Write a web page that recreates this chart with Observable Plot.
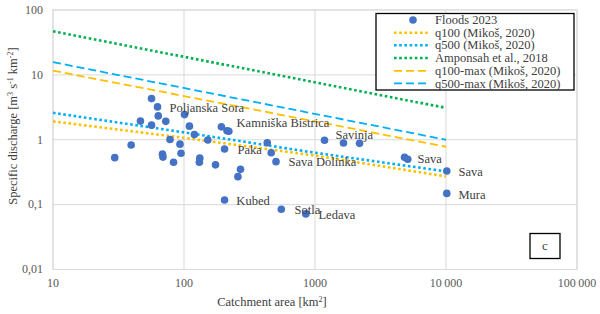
<!DOCTYPE html>
<html>
<head>
<meta charset="utf-8">
<script src="https://cdn.jsdelivr.net/npm/d3@7"></script>
<script src="https://cdn.jsdelivr.net/npm/@observablehq/plot@0.6"></script>
<style>
  html, body { margin: 0; padding: 0; background: #fff; }
  #chart { width: 600px; height: 314px; }
</style>
</head>
<body>
<div id="chart"></div>
<script>
// ---- data ----
const floodArea = [29.6, 39.5, 46.5, 56.5, 56.5, 62.8, 63.6, 72.6, 78.2, 68.5, 69.1, 83.2, 93.2, 94.9, 100.9, 110, 120, 132, 131, 152, 174, 193, 213, 220, 204, 270, 258, 204, 432, 463, 504, 553, 851, 1182, 1650, 2188, 4823, 5105, 10140, 10140];
const floodQ    = [0.53, 0.83, 1.94, 4.31, 1.68, 3.21, 2.33, 1.92, 1.01, 0.60, 0.54, 0.45, 0.855, 0.62, 2.44, 1.62, 1.2, 0.52, 0.45, 0.99, 0.41, 1.58, 1.38, 1.35, 0.72, 0.35, 0.27, 0.118, 0.90, 0.63, 0.46, 0.085, 0.072, 0.98, 0.89, 0.88, 0.535, 0.50, 0.33, 0.149];

const labelNames = ["Poljanska Sora", "Kamniška Bistrica", "Paka", "Sava Dolinka", "Kubed", "Sotla", "Ledava", "Savinja", "Sava", "Sava", "Mura"];
const labelArea  = [77.5, 252, 256, 628, 251, 698, 1063, 1433, 6058, 12450, 12450];
const labelQ     = [3.13, 1.84, 0.70, 0.45, 0.115, 0.082, 0.0686, 1.18, 0.51, 0.316, 0.142];

const q100Area = [10, 100, 1000, 10000];
const q100Vals = [1.92, 1.07, 0.57, 0.272];
const q500Area = [10, 100, 1000, 10000];
const q500Vals = [2.6, 1.3, 0.63, 0.325];
const ampArea = [10, 10000];
const ampVals = [47, 3.1];
const q100maxArea = [10, 10000];
const q100maxVals = [11.6, 0.78];
const q500maxArea = [10, 10000];
const q500maxVals = [15.7, 1.0];

const xTicks = [10, 100, 1000, 10000, 100000];
const xTickLabels = ["10", "100", "1000", "10\u2009000", "100\u2009000"];
const yTicks = [0.01, 0.1, 1, 10, 100];
const yTickLabels = ["0,01", "0,1", "1", "10", "100"];

const seriesNames = ["Floods 2023", "q100 (Mikoš, 2020)", "q500 (Mikoš, 2020)", "Amponsah et al., 2018", "q100-max (Mikoš, 2020)", "q500-max (Mikoš, 2020)"];

// ---- build tables ----
const floods = floodArea.map((a, i) => ({area: a, q: floodQ[i]}));
const labels = labelNames.map((n, i) => ({name: n, area: labelArea[i], q: labelQ[i]}));
const mk = (xs, ys) => xs.map((x, i) => ({area: x, q: ys[i]}));

const ORANGE = "#FFC000", BLUE = "#00B0F0", GREEN = "#00B050", DOT = "#4472C4";
const FONT = "Liberation Serif, Times New Roman, serif";
const dotted = {strokeWidth: 2.6, strokeDasharray: "2.6,2.6", strokeLinecap: "butt"};
const dashed = {strokeWidth: 1.8, strokeDasharray: "8,4", strokeLinecap: "butt"};

const plot = Plot.plot({
  width: 600,
  height: 314,
  marginLeft: 52.5,
  marginRight: 23.5,
  marginTop: 9.5,
  marginBottom: 45,
  style: {fontFamily: FONT, fontSize: "12px", color: "#595959", background: "#fff"},
  x: {type: "log", domain: [10, 100000]},
  y: {type: "log", domain: [0.01, 100]},
  marks: [
    Plot.gridX(xTicks, {stroke: "#d9d9d9", strokeOpacity: 1, strokeWidth: 1}),
    Plot.gridY(yTicks, {stroke: "#d9d9d9", strokeOpacity: 1, strokeWidth: 1}),
    Plot.frame({stroke: "#d9d9d9", strokeWidth: 1}),
    Plot.axisX({ticks: xTicks, tickSize: 0, tickPadding: 9, label: null,
      tickFormat: d => xTickLabels[xTicks.indexOf(d)], fontSize: 12}),
    Plot.axisY({ticks: yTicks, tickSize: 0, tickPadding: 10, label: null,
      tickFormat: d => yTickLabels[yTicks.indexOf(d)], fontSize: 12}),
    Plot.line(mk(ampArea, ampVals), {x: "area", y: "q", stroke: GREEN, ...dotted}),
    Plot.line(mk(q500maxArea, q500maxVals), {x: "area", y: "q", stroke: BLUE, ...dashed}),
    Plot.line(mk(q100maxArea, q100maxVals), {x: "area", y: "q", stroke: ORANGE, ...dashed}),
    Plot.line(mk(q500Area, q500Vals), {x: "area", y: "q", stroke: BLUE, ...dotted}),
    Plot.line(mk(q100Area, q100Vals), {x: "area", y: "q", stroke: ORANGE, ...dotted}),
    Plot.dot(floods, {x: "area", y: "q", r: 3.8, fill: DOT, stroke: "none"}),
    Plot.text(labels, {x: "area", y: "q", text: "name", textAnchor: "start", lineAnchor: "middle",
      fill: "#404040", fontSize: 12.5})
  ]
});
document.getElementById("chart").appendChild(plot);

// ---- titles, legend, panel label ----
const svg = d3.select(plot);

const yt = svg.append("text")
  .attr("transform", "translate(17,126) rotate(-90)")
  .attr("text-anchor", "middle")
  .attr("font-family", FONT).attr("font-size", 12.5).attr("fill", "#404040");
yt.append("tspan").text("Specific discharge [m");
yt.append("tspan").attr("font-size", 8).attr("dy", -4.5).text("3");
yt.append("tspan").attr("dy", 4.5).text(" s");
yt.append("tspan").attr("font-size", 8).attr("dy", -4.5).text("-1");
yt.append("tspan").attr("dy", 4.5).text(" km");
yt.append("tspan").attr("font-size", 8).attr("dy", -4.5).text("-2");
yt.append("tspan").attr("dy", 4.5).text("]");

const xt = svg.append("text")
  .attr("x", 272).attr("y", 306)
  .attr("text-anchor", "middle")
  .attr("font-family", FONT).attr("font-size", 12.5).attr("fill", "#404040");
xt.append("tspan").text("Catchment area [km");
xt.append("tspan").attr("font-size", 8).attr("dy", -4.5).text("2");
xt.append("tspan").attr("dy", 4.5).text("]");

// legend
const lg = svg.append("g").attr("text-anchor", "start");
lg.append("rect").attr("x", 376).attr("y", 13.5).attr("width", 198).attr("height", 76.5)
  .attr("fill", "#fff").attr("stroke", "#000").attr("stroke-width", 1.3);
const rowY = [20, 32.7, 45.2, 58, 70.8, 83.3];
const sw = [
  {type: "dot"},
  {color: ORANGE, ...dotted},
  {color: BLUE, ...dotted},
  {color: GREEN, ...dotted},
  {color: ORANGE, ...dashed},
  {color: BLUE, ...dashed}
];
seriesNames.forEach((name, i) => {
  const y = rowY[i];
  const s = sw[i];
  if (s.type === "dot") {
    lg.append("circle").attr("cx", 413).attr("cy", y).attr("r", 3.8).attr("fill", DOT);
  } else {
    lg.append("line").attr("x1", 394).attr("x2", 430).attr("y1", y).attr("y2", y)
      .attr("stroke", s.color).attr("stroke-width", s.strokeWidth)
      .attr("stroke-dasharray", s.strokeDasharray).attr("stroke-linecap", "butt");
  }
  lg.append("text").attr("x", 435).attr("y", y).attr("dy", "0.34em").attr("text-anchor", "start")
    .attr("font-family", FONT).attr("font-size", 12.5).attr("fill", "#404040").text(name);
});

// panel label
svg.append("rect").attr("x", 530).attr("y", 233.5).attr("width", 30).attr("height", 25)
  .attr("fill", "#fff").attr("stroke", "#000").attr("stroke-width", 1.3);
svg.append("text").attr("x", 545).attr("y", 246).attr("dy", "0.34em").attr("text-anchor", "middle")
  .attr("font-family", FONT).attr("font-size", 13).attr("fill", "#404040").text("c");
</script>
</body>
</html>
